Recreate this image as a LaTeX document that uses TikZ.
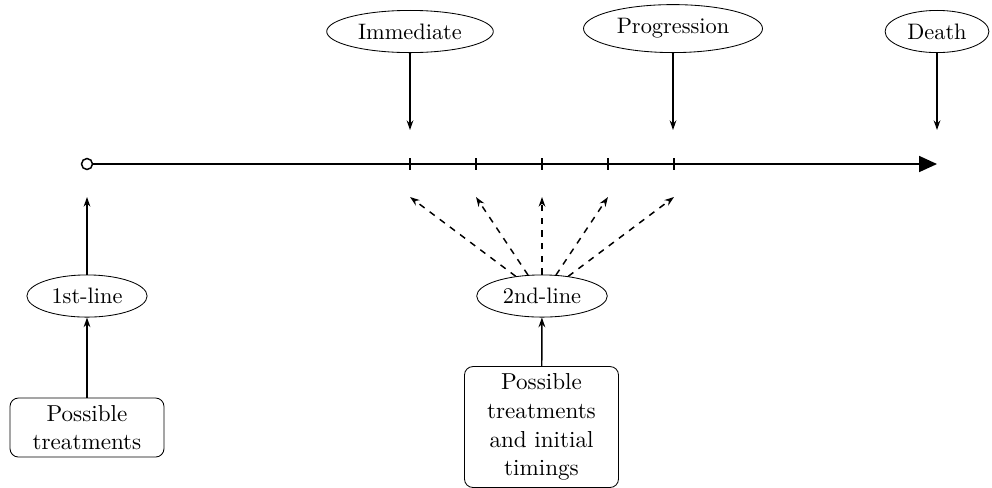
\documentclass[tikz,border=0pt]{standalone}
\usetikzlibrary{arrows.meta,shapes.geometric}
\begin{document}
\begin{tikzpicture}[x=0.474pt,y=-0.474pt,
  ev/.style={ellipse,draw,line width=0.4pt,font=\fontsize{10.6}{12.7}\selectfont,inner sep=3.33pt},
  tbox/.style={draw,rounded corners=4pt,line width=0.4pt,align=center,minimum width=73pt,inner sep=3.33pt,font=\fontsize{10.95}{13.6}\selectfont},
  arr/.style={line width=0.7pt,-{Stealth[length=4.6pt,width=3.2pt]}},
  darr/.style={line width=0.7pt,dashed,-{Stealth[length=4.6pt,width=3.2pt]}},
  axis/.style={line width=0.7pt},
  tick/.style={line width=0.5pt}]
\useasboundingbox (0,0) rectangle (992,487);
% top events
\node[ev,anchor=south] (imm) at (410,53) {Immediate};
\node[ev,anchor=south] (prog) at (673,53) {Progression};
\node[ev,anchor=south] (death) at (937,53) {Death};
\coordinate (dimm) at (410,130);
\coordinate (dprog) at (673,130);
\coordinate (ddeath) at (937,130);
\draw[arr] (imm) -- (dimm);
\draw[arr] (prog) -- (dprog);
\draw[arr] (death) -- (ddeath);
% time axis
\node[circle,draw,axis,minimum size=5.2pt,inner sep=0pt] (start) at (87,164) {};
\coordinate (end) at (937,164);
\draw[axis,-{Triangle[length=8.5pt,width=7.6pt]}] (start) -- (end);
\foreach \x/\n in {410/1,476/2,542/3,608/4,674/5}{
  \coordinate (t\n) at (\x,164);
  \draw[tick] (t\n) ++(0,-6) -- ++(0,12);
  \coordinate (u\n) at (\x,197);
}
\coordinate (u0) at (87,197);
% first line
\node[ev] (l1) at (87,296) {1st-line};
\draw[arr] (l1) -- (u0);
\node[tbox] (b1) at (87,427.5) {Possible\\treatments};
\draw[arr] (b1) -- (l1);
% second line
\node[ev] (l2) at (542,296) {2nd-line};
\foreach \n in {1,...,5}{\draw[darr] (l2) -- (u\n);}
\node[tbox] (b2) at (541.5,427) {Possible\\treatments\\and initial\\timings};
\draw[arr] (b2) -- (l2);
\end{tikzpicture}
\end{document}
